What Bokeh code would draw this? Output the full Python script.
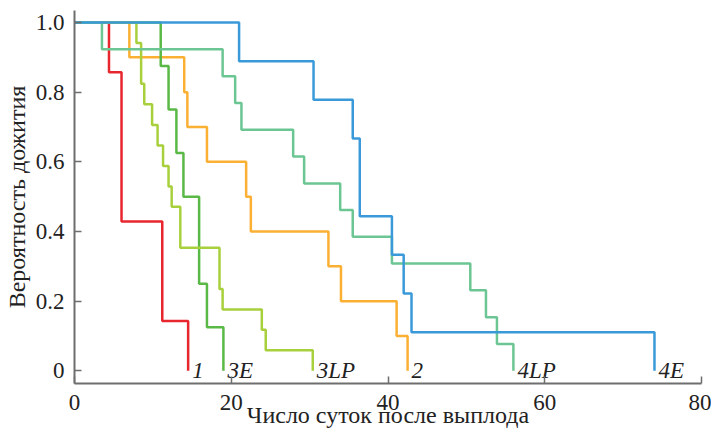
from bokeh.plotting import figure
from bokeh.models import Range1d, FixedTicker
from bokeh.core.properties import value
from bokeh.embed import file_html
from bokeh.resources import INLINE

# ---- data ----
group_names = ["1", "2", "3E", "3LP", "4LP", "4E"]

t_1 = [0, 4.4, 6.0, 11.2, 14.5]
s_1 = [1.0, 0.857, 0.429, 0.143, 0.0]

t_2 = [0, 7.0, 14.0, 14.4, 16.9, 21.9, 22.5, 32.4, 34.0, 41.1, 42.5]
s_2 = [1.0, 0.9, 0.8, 0.7, 0.6, 0.5, 0.4, 0.3, 0.2, 0.1, 0.0]

t_3E = [0, 11.0, 12.0, 13.0, 13.9, 15.9, 16.9, 19.0]
s_3E = [1.0, 0.875, 0.75, 0.625, 0.5, 0.25, 0.125, 0.0]

t_3LP = [0, 7.9, 8.5, 8.9, 9.9, 10.6, 11.3, 12.0, 12.4, 13.5, 18.5, 18.9, 23.9, 24.4, 30.4]
s_3LP = [1.0, 0.941, 0.824, 0.765, 0.706, 0.647, 0.588, 0.529, 0.471, 0.353,
         0.235, 0.176, 0.118, 0.059, 0.0]

t_4LP = [0, 3.5, 18.9, 20.5, 21.3, 27.9, 29.3, 33.9, 35.5, 40.5, 50.5, 52.5, 53.9, 56.0]
s_4LP = [1.0, 0.923, 0.846, 0.769, 0.692, 0.615, 0.538, 0.462, 0.385, 0.308,
         0.231, 0.154, 0.077, 0.0]

t_4E = [0, 21.0, 30.5, 35.5, 36.4, 40.5, 42.0, 43.0, 74.0]
s_4E = [1.0, 0.889, 0.778, 0.667, 0.444, 0.333, 0.222, 0.111, 0.0]

x_ticks = [0, 20, 40, 60, 80]
y_ticks = [0, 0.2, 0.4, 0.6, 0.8, 1.0]
y_tick_labels = ["0", "0.2", "0.4", "0.6", "0.8", "1.0"]

x_title = "Число суток после выплода"
y_title = "Вероятность дожития"

series = [
    ("1", t_1, s_1, "#e8262e"),
    ("2", t_2, s_2, "#fbb034"),
    ("3E", t_3E, s_3E, "#5ab946"),
    ("3LP", t_3LP, s_3LP, "#a8d03c"),
    ("4LP", t_4LP, s_4LP, "#6cc693"),
    ("4E", t_4E, s_4E, "#3a9ad9"),
]

SERIF = "Liberation Serif"

p = figure(width=711, height=430, output_backend="svg", toolbar_location=None,
           x_range=Range1d(0, 80), y_range=Range1d(-0.0365, 1.0345),
           min_border_left=73, min_border_right=10, min_border_top=10,
           min_border_bottom=47)
p.outline_line_color = None
p.xgrid.visible = False
p.ygrid.visible = False
p.background_fill_color = "white"
p.border_fill_color = "white"

for name, t, s, color in series:
    p.step(t, s, mode="after", line_color=color, line_width=2.5)
    p.text(x=[t[-1]], y=[s[-1]], text=[name], x_offset=4,
           text_font=value(SERIF), text_font_style="italic",
           text_font_size="23px", text_color="#222222",
           text_align="left", text_baseline="alphabetic")

for ax in (p.xaxis[0], p.yaxis[0]):
    ax.axis_line_color = "#6e6e6e"
    ax.axis_line_width = 2
    ax.major_tick_line_color = "#6e6e6e"
    ax.major_tick_line_width = 1.5
    ax.major_tick_in = 7
    ax.major_tick_out = 0
    ax.minor_tick_line_color = None
    ax.major_label_text_font = SERIF
    ax.major_label_text_color = "#222222"
    ax.major_label_text_font_size = "23px"
    ax.major_label_text_line_height = 1.0
    ax.axis_label_text_font = SERIF
    ax.axis_label_text_font_style = "normal"
    ax.axis_label_text_color = "#222222"
    ax.axis_label_text_font_size = "24px"
    ax.axis_label_text_line_height = 1.0

p.xaxis.ticker = FixedTicker(ticks=x_ticks)
p.xaxis.major_label_standoff = 11
p.xaxis.axis_label = x_title
p.xaxis.axis_label_standoff = -11

p.yaxis.ticker = FixedTicker(ticks=y_ticks)
p.yaxis.major_label_overrides = dict(zip(y_ticks, y_tick_labels))
p.yaxis.major_label_standoff = 10
p.yaxis.axis_label = y_title
p.yaxis.axis_label_standoff = 3

open("out.html", "w").write(file_html(p, INLINE))
